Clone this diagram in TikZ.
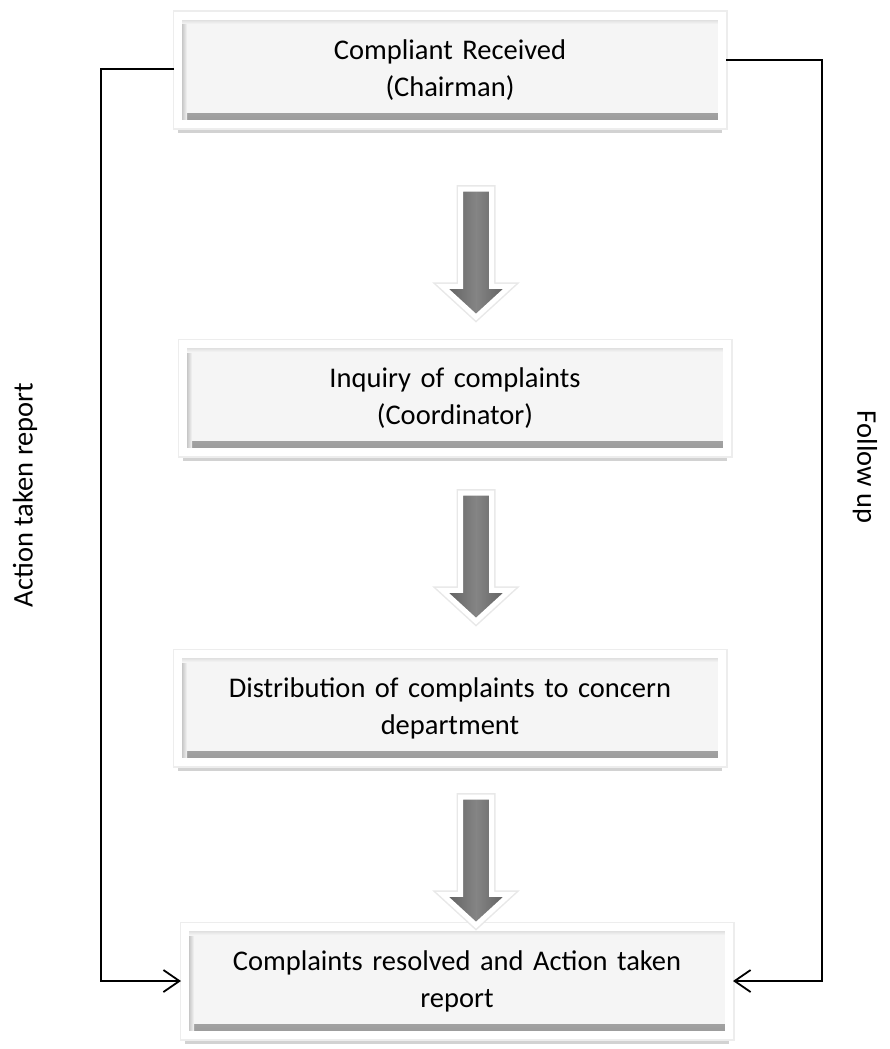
\documentclass[tikz,border=0pt]{standalone}
\usepackage{fontspec}
\setmainfont{Carlito}
\usetikzlibrary{shapes.arrows, arrows.meta, positioning, shadows}

\tikzstyle{box} = [rectangle, minimum width=544pt, minimum height=108pt, text width=530pt, align=center, fill=black!4, draw=white, line width=8pt, drop shadow={shadow xshift=0pt, shadow yshift=-9pt, opacity=0.25, fill=black!70}, preaction={draw=black!7, line width=11pt}, font=\fontsize{28.5}{37}\selectfont,
  path picture={
    \shade[top color=black!8, bottom color=black!40] ([yshift=4pt]path picture bounding box.south west) rectangle ([yshift=11pt]path picture bounding box.south east);
    \shade[left color=black!22, right color=black!4] ([xshift=4pt]path picture bounding box.south west) rectangle ([xshift=9pt]path picture bounding box.north west);
    \shade[top color=black!12, bottom color=black!4] ([yshift=-4pt]path picture bounding box.north west) rectangle ([yshift=-8pt]path picture bounding box.north east);
  }]
\tikzstyle{down} = [single arrow, shape border rotate=270, minimum height=128pt, minimum width=62pt, inner sep=13pt, single arrow head extend=18pt, single arrow tip angle=95, draw=white, line width=5pt, left color=black!64, right color=black!64, middle color=black!48, drop shadow={shadow xshift=0pt, shadow yshift=-2pt, opacity=0.2, fill=black!70}, preaction={draw=black!9, line width=8pt}]
\tikzstyle{back} = [draw, line width=1.8pt, -{Straight Barb[length=16pt, width=22pt]}]
\tikzstyle{sidelabel} = [font=\fontsize{28.5}{37}\selectfont]

\begin{document}
\begin{tikzpicture}[x=1pt, y=1pt]
    \useasboundingbox (0,0) rectangle (890,-1049);

    % process boxes
    \node (recv) [box] at (450,-70) {Compliant Received\\(Chairman)};
    \node (inquiry) [box] at (455,-398) {Inquiry of complaints\\(Coordinator)};
    \node (distrib) [box] at (450,-708) {Distribution of complaints to concern\\department};
    \node (resolved) [box] at (457,-981) {Complaints resolved and Action taken\\report};

    % big arrows between boxes
    \node (down1) [down] at (476,-246) {};
    \node (down2) [down] at (476,-550) {};
    \node (down3) [down] at (476,-854) {};

    % return lines
    \coordinate (lcol) at (101,0);
    \coordinate (rcol) at (822,0);
    \draw [back] ([yshift=1pt]recv.west) -- ([yshift=1pt]recv.west -| lcol) |- (resolved.west);
    \draw [back] ([yshift=10pt]recv.east) -- ([yshift=10pt]recv.east -| rcol) |- (resolved.east);

    % labels
    \node (actlabel) [sidelabel, rotate=90] at (25,-495) {Action taken report};
    \node (followlabel) [sidelabel, rotate=-90] at (865,-467) {Follow up};
\end{tikzpicture}
\end{document}
